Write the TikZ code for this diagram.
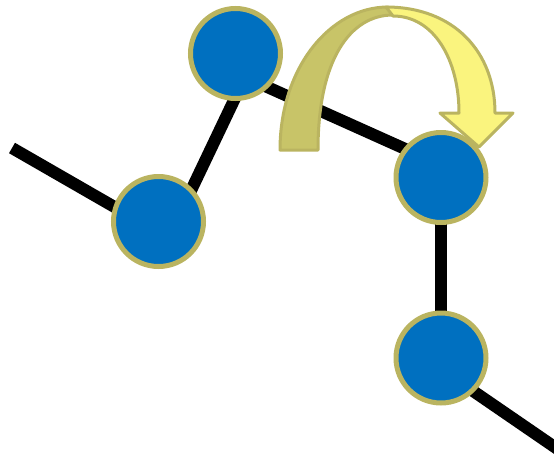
\documentclass[tikz,border=0pt]{standalone}
\begin{document}
\begin{tikzpicture}[x=1pt,y=-1pt,
  conn/.style={line width=12pt,black},
  dot/.style={circle,draw=dotborder,fill=dotfill,line width=5pt,minimum size=90pt,inner sep=0pt},
  arrowback/.style={draw=dotborder,fill=arrowolive,line width=3pt,line join=round},
  arrowfront/.style={draw=dotborder,fill=arrowyellow,line width=3pt,line join=round}]
\definecolor{dotfill}{RGB}{0,112,192}
\definecolor{dotborder}{RGB}{186,180,96}
\definecolor{arrowolive}{RGB}{200,196,104}
\definecolor{arrowyellow}{RGB}{250,244,126}
\useasboundingbox (0,0) rectangle (554,453);
% line end points
\coordinate (l0) at (12,148);
\coordinate (la) at (158,232);
\coordinate (ab1) at (176,222);
\coordinate (ab2) at (256,54);
\coordinate (bc1) at (236,73);
\coordinate (bc2) at (441,165);
\coordinate (dr1) at (441,369);
\coordinate (dr2) at (575,461);
% connectors
\begin{scope}
\clip (0,0) rectangle (554,453);
\draw[conn] (l0) -- (la);
\draw[conn] (ab1) -- (ab2);
\draw[conn] (bc1) -- (bc2);
\draw[conn] (441,177) -- (441,358);
\draw[conn] (dr1) -- (dr2);
\end{scope}
% nodes
\node[dot] (A) at (158.5,221.5) {};
\node[dot] (B) at (235.5,53.5) {};
\node[dot] (C) at (441,177.5) {};
\node[dot] (D) at (441,358) {};
% curved arrow
\path[arrowback] (280,150) .. controls (280,68) and (330,7) .. (388,7)
  -- (393,15) .. controls (350,15) and (318,60) .. (318,150) -- cycle;
\path[arrowfront] (386,7) .. controls (454,7) and (495,52) .. (495,113)
  -- (513,113) -- (479,147) -- (440,113) -- (459,113)
  .. controls (459,60) and (434,16) .. (393,16) -- cycle;
\end{tikzpicture}
\end{document}
